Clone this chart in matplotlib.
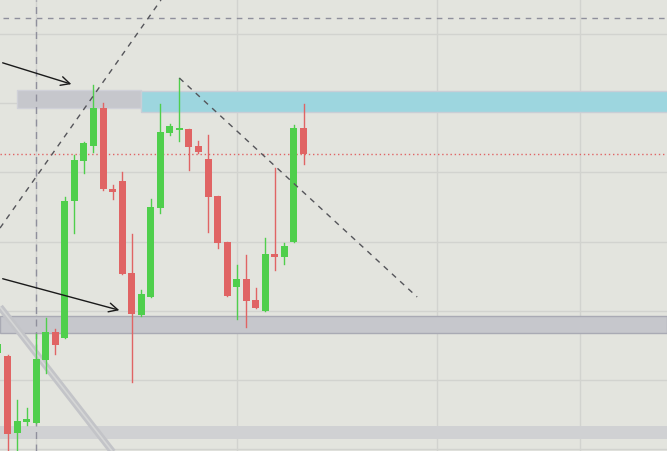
import matplotlib
matplotlib.use("Agg")
import matplotlib.pyplot as plt
from matplotlib.patches import Rectangle

# daily candles, index 0 is the partly hidden one at the left edge
opens = [1.08195, 1.08174, 1.07617, 1.07697, 1.07690, 1.08145, 1.08347,
         1.08304, 1.09293, 1.09582, 1.09691, 1.09965, 1.09380, 1.09438,
         1.08773, 1.08470, 1.08600, 1.09243, 1.09785, 1.09806, 1.09814,
         1.09691, 1.09597, 1.09330, 1.08997, 1.08672, 1.08730, 1.08578,
         1.08499, 1.08911, 1.08889, 1.08997, 1.09821]
highs = [1.08282, 1.08181, 1.07856, 1.07798, 1.08333, 1.08448, 1.08369,
         1.09322, 1.09626, 1.09720, 1.10132, 1.10001, 1.09409, 1.09503,
         1.09055, 1.08650, 1.09308, 1.09994, 1.09850, 1.10182, 1.09814,
         1.09727, 1.09770, 1.09330, 1.08997, 1.08831, 1.08903, 1.08665,
         1.09026, 1.09532, 1.08990, 1.09843, 1.09994]
lows = [1.08174, 1.07422, 1.07422, 1.07675, 1.07690, 1.08051, 1.08188,
        1.08304, 1.09062, 1.09496, 1.09647, 1.09373, 1.09308, 1.08766,
        1.07986, 1.08463, 1.08600, 1.09207, 1.09770, 1.09727, 1.09517,
        1.09640, 1.09069, 1.08954, 1.08607, 1.08441, 1.08383, 1.08520,
        1.08499, 1.08795, 1.08838, 1.08997, 1.09561]
closes = [1.08260, 1.07610, 1.07704, 1.07718, 1.08152, 1.08347, 1.08253,
          1.09293, 1.09590, 1.09712, 1.09965, 1.09380, 1.09358, 1.08766,
          1.08477, 1.08622, 1.09250, 1.09792, 1.09835, 1.09814, 1.09684,
          1.09647, 1.09322, 1.08990, 1.08607, 1.08730, 1.08571, 1.08520,
          1.08911, 1.08889, 1.08968, 1.09821, 1.09633]

# drawn objects (bar index, price)
top_zone = (2, 15, 1.09962, 1.10095)
cyan_zone = (15, 1.09936, 1.10088)
mid_zone = (1.08340, 1.08463)
low_zone = (1.07574, 1.07668)
last_price = 1.09633
top_dash_price = 1.10616
vline_index = 4
grid_x = [4, 25, 46, 61]
grid_y = [1.0750, 1.0800, 1.0850, 1.0900, 1.0950, 1.1000, 1.1050]
rise_line = ([0.21, 17.07], [1.09098, 1.10746])
fall_line = ([19, 43.9], [1.10182, 1.08600])
arrows = [((0.21, 1.10298), (7.96, 1.10132)),
          ((0.21, 1.08737), (12.99, 1.08499))]
channel = ([0.21, 12.5], [1.08528, 1.07437])

bg = "#e3e4de"
up_col = "#4fcf4c"
down_col = "#e06464"

fig = plt.figure(figsize=(6.67, 4.51), dpi=100)
ax = fig.add_axes([0, 0, 1, 1])
ax.set_facecolor(bg)
fig.patch.set_facecolor(bg)
ax.set_xlim(0.21, 70.07)
ax.set_ylim(1.07487, 1.10746)

for gx in grid_x:
    ax.axvline(gx, color="#d2d3cf", lw=1, zorder=0)
for gy in grid_y:
    ax.axhline(gy, color="#d2d3cf", lw=1, zorder=0)

# zones
x0, x1, lo, hi = top_zone
ax.add_patch(Rectangle((x0, lo), x1 - x0, hi - lo, facecolor="#c6c7cc",
                       edgecolor="#d0d1d8", lw=1, zorder=1))
x0, lo, hi = cyan_zone
ax.add_patch(Rectangle((x0, lo), 80, hi - lo, facecolor="#9dd6df",
                       edgecolor="#c9ced6", lw=1, zorder=1))
ax.axhspan(mid_zone[0], mid_zone[1], facecolor="#c6c7cc", edgecolor="#a9aab4",
           lw=1, zorder=1)
ax.axhspan(low_zone[0], low_zone[1], facecolor="#d0d1d3", edgecolor="none",
           zorder=1)

ax.axhline(last_price, color="#e06464", lw=1, ls=(0, (1, 2)), zorder=1)
ax.axhline(top_dash_price, xmin=0.005, color="#8f8f9c", lw=1,
           ls=(0, (4, 4)), zorder=1)
ax.axvline(vline_index, color="#8f8f9c", lw=1, ls=(0, (5, 4)), zorder=1)

ax.plot(channel[0], channel[1], color="#c3c4c8", lw=5, zorder=1,
        solid_capstyle="butt")
ax.plot(channel[0], channel[1], color="#d5d6d6", lw=1.2, zorder=1)

# candles
w = 0.73
for i in range(len(opens)):
    o, h, l, c = opens[i], highs[i], lows[i], closes[i]
    col = up_col if c >= o else down_col
    ax.plot([i, i], [l, h], color=col, lw=1, zorder=3)
    b = min(o, c)
    hgt = max(abs(c - o), 0.00018)
    ax.add_patch(Rectangle((i - w / 2, b), w, hgt, facecolor=col,
                           edgecolor="none", zorder=4))

ax.plot(rise_line[0], rise_line[1], color="#55555a", lw=1,
        ls=(0, (4, 4)), zorder=5)
ax.plot(fall_line[0], fall_line[1], color="#55555a", lw=1,
        ls=(0, (4, 4)), zorder=5)

for start, end in arrows:
    ax.annotate("", xy=end, xytext=start,
                arrowprops=dict(arrowstyle="->", color="#1a1a1a", lw=1,
                                mutation_scale=16), zorder=6)

ax.axis("off")
plt.savefig("out.png", dpi=100, facecolor=bg)
